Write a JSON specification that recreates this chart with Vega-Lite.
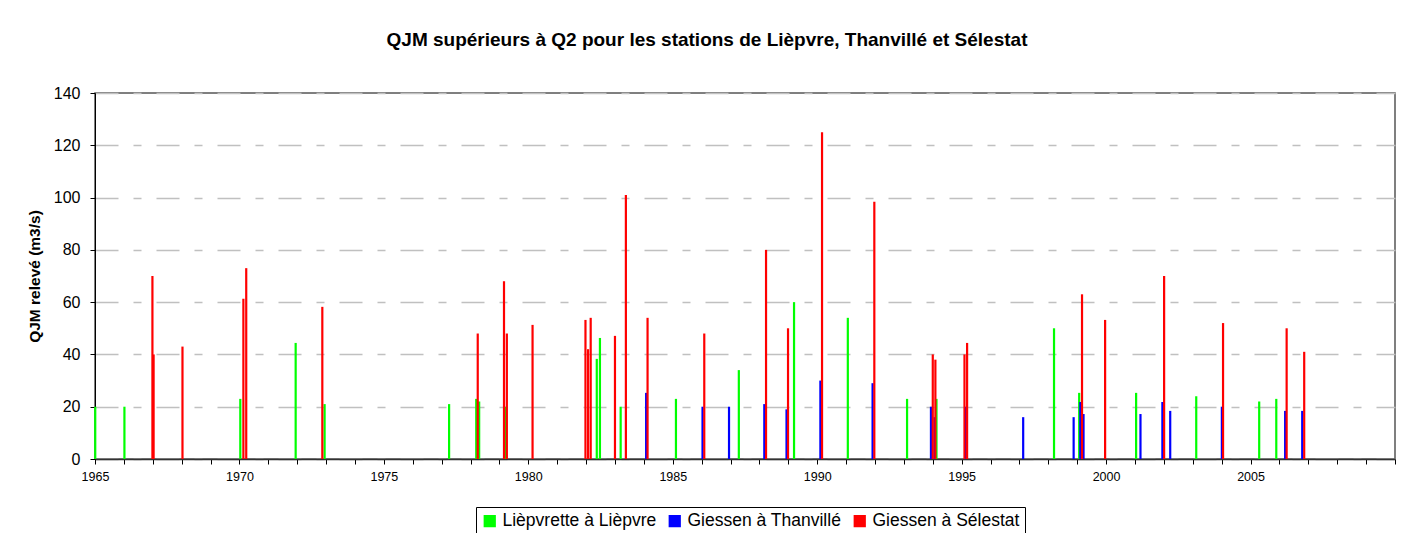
{
  "$schema": "https://vega.github.io/schema/vega-lite/v6.json",
  "width": 1300,
  "height": 366,
  "autosize": {"type": "none"},
  "padding": {"left": 95, "top": 93, "right": 17, "bottom": 74},
  "background": "white",
  "config": {
    "font": "Liberation Sans",
    "view": {"stroke": "#555555", "strokeWidth": 1.5},
    "axis": {"domainColor": "black", "tickColor": "black", "labelColor": "black", "titleColor": "black", "labelFont": "Liberation Sans", "titleFont": "Liberation Sans"}
  },
  "title": {
    "text": "QJM supérieurs à Q2 pour les stations de Lièpvre, Thanvillé et Sélestat",
    "fontSize": 19,
    "fontWeight": "bold",
    "font": "Liberation Sans",
    "color": "black",
    "anchor": "middle",
    "dx": -38,
    "offset": 35
  },
  "data": {
    "values": [
      {"date": "1965-01-04", "station": "Lièpvrette à Lièpvre", "q": 20},
      {"date": "1966-01-08", "station": "Lièpvrette à Lièpvre", "q": 20},
      {"date": "1970-01-12", "station": "Lièpvrette à Lièpvre", "q": 23},
      {"date": "1971-12-13", "station": "Lièpvrette à Lièpvre", "q": 44.4},
      {"date": "1972-12-13", "station": "Lièpvrette à Lièpvre", "q": 21},
      {"date": "1977-04-05", "station": "Lièpvrette à Lièpvre", "q": 21},
      {"date": "1978-03-14", "station": "Lièpvrette à Lièpvre", "q": 23},
      {"date": "1978-04-20", "station": "Lièpvrette à Lièpvre", "q": 22},
      {"date": "1979-03-14", "station": "Lièpvrette à Lièpvre", "q": 20},
      {"date": "1982-05-16", "station": "Lièpvrette à Lièpvre", "q": 38.3},
      {"date": "1982-06-25", "station": "Lièpvrette à Lièpvre", "q": 46.3},
      {"date": "1983-03-14", "station": "Lièpvrette à Lièpvre", "q": 20},
      {"date": "1985-02-10", "station": "Lièpvrette à Lièpvre", "q": 23},
      {"date": "1987-04-16", "station": "Lièpvrette à Lièpvre", "q": 34},
      {"date": "1989-03-14", "station": "Lièpvrette à Lièpvre", "q": 60},
      {"date": "1991-01-23", "station": "Lièpvrette à Lièpvre", "q": 54},
      {"date": "1993-02-10", "station": "Lièpvrette à Lièpvre", "q": 23},
      {"date": "1994-02-17", "station": "Lièpvrette à Lièpvre", "q": 23},
      {"date": "1998-03-14", "station": "Lièpvrette à Lièpvre", "q": 50},
      {"date": "1999-01-26", "station": "Lièpvrette à Lièpvre", "q": 25.3},
      {"date": "2001-01-15", "station": "Lièpvrette à Lièpvre", "q": 25.3},
      {"date": "2003-02-14", "station": "Lièpvrette à Lièpvre", "q": 24},
      {"date": "2005-04-20", "station": "Lièpvrette à Lièpvre", "q": 22},
      {"date": "2005-11-22", "station": "Lièpvrette à Lièpvre", "q": 23},
      {"date": "1984-01-30", "station": "Giessen à Thanvillé", "q": 25.3},
      {"date": "1986-01-12", "station": "Giessen à Thanvillé", "q": 20},
      {"date": "1986-12-13", "station": "Giessen à Thanvillé", "q": 20},
      {"date": "1988-03-03", "station": "Giessen à Thanvillé", "q": 21},
      {"date": "1988-12-09", "station": "Giessen à Thanvillé", "q": 19},
      {"date": "1990-02-10", "station": "Giessen à Thanvillé", "q": 30},
      {"date": "1991-12-02", "station": "Giessen à Thanvillé", "q": 29},
      {"date": "1993-12-09", "station": "Giessen à Thanvillé", "q": 20},
      {"date": "1994-01-23", "station": "Giessen à Thanvillé", "q": 16},
      {"date": "1995-02-17", "station": "Giessen à Thanvillé", "q": 20},
      {"date": "1997-02-17", "station": "Giessen à Thanvillé", "q": 16},
      {"date": "1998-11-17", "station": "Giessen à Thanvillé", "q": 16},
      {"date": "1999-02-10", "station": "Giessen à Thanvillé", "q": 21.8},
      {"date": "1999-03-22", "station": "Giessen à Thanvillé", "q": 17.2},
      {"date": "2001-03-11", "station": "Giessen à Thanvillé", "q": 17.2},
      {"date": "2001-12-13", "station": "Giessen à Thanvillé", "q": 21.8},
      {"date": "2002-03-22", "station": "Giessen à Thanvillé", "q": 18.4},
      {"date": "2004-01-04", "station": "Giessen à Thanvillé", "q": 20},
      {"date": "2006-03-14", "station": "Giessen à Thanvillé", "q": 18.4},
      {"date": "2006-10-16", "station": "Giessen à Thanvillé", "q": 18.4},
      {"date": "1966-12-28", "station": "Giessen à Sélestat", "q": 70},
      {"date": "1967-01-12", "station": "Giessen à Sélestat", "q": 40},
      {"date": "1968-01-12", "station": "Giessen à Sélestat", "q": 43},
      {"date": "1970-02-20", "station": "Giessen à Sélestat", "q": 61.3},
      {"date": "1970-03-28", "station": "Giessen à Sélestat", "q": 73},
      {"date": "1972-11-14", "station": "Giessen à Sélestat", "q": 58.2},
      {"date": "1978-04-02", "station": "Giessen à Sélestat", "q": 48},
      {"date": "1979-02-28", "station": "Giessen à Sélestat", "q": 68},
      {"date": "1979-04-05", "station": "Giessen à Sélestat", "q": 48},
      {"date": "1980-02-24", "station": "Giessen à Sélestat", "q": 51.3},
      {"date": "1981-12-24", "station": "Giessen à Sélestat", "q": 53.2},
      {"date": "1982-01-26", "station": "Giessen à Sélestat", "q": 42},
      {"date": "1982-02-28", "station": "Giessen à Sélestat", "q": 54},
      {"date": "1983-01-01", "station": "Giessen à Sélestat", "q": 47.1},
      {"date": "1983-05-19", "station": "Giessen à Sélestat", "q": 101},
      {"date": "1984-02-17", "station": "Giessen à Sélestat", "q": 54},
      {"date": "1986-02-03", "station": "Giessen à Sélestat", "q": 48},
      {"date": "1988-03-25", "station": "Giessen à Sélestat", "q": 80},
      {"date": "1988-12-28", "station": "Giessen à Sélestat", "q": 50},
      {"date": "1990-03-03", "station": "Giessen à Sélestat", "q": 125},
      {"date": "1991-12-24", "station": "Giessen à Sélestat", "q": 98.4},
      {"date": "1994-01-01", "station": "Giessen à Sélestat", "q": 40},
      {"date": "1994-02-03", "station": "Giessen à Sélestat", "q": 38},
      {"date": "1995-02-06", "station": "Giessen à Sélestat", "q": 40},
      {"date": "1995-03-11", "station": "Giessen à Sélestat", "q": 44.4},
      {"date": "1999-03-03", "station": "Giessen à Sélestat", "q": 63},
      {"date": "1999-12-20", "station": "Giessen à Sélestat", "q": 53.2},
      {"date": "2002-01-04", "station": "Giessen à Sélestat", "q": 70},
      {"date": "2004-01-19", "station": "Giessen à Sélestat", "q": 52},
      {"date": "2006-04-02", "station": "Giessen à Sélestat", "q": 50},
      {"date": "2006-11-10", "station": "Giessen à Sélestat", "q": 41}
    ]
  },
  "mark": {"type": "bar", "size": 2.2},
  "encoding": {
    "x": {
      "field": "date",
      "type": "temporal",
      "scale": {"type": "utc", "domain": [{"year": 1965, "month": 1, "date": 1, "utc": true}, {"year": 2010, "month": 1, "date": 1, "utc": true}], "nice": false, "padding": 0},
      "axis": {
        "title": null,
        "grid": false,
        "tickCount": {"interval": "year", "step": 1},
        "labelExpr": "(utcyear(datum.value) % 5 == 0 && utcyear(datum.value) < 2010) ? utcFormat(datum.value, '%Y') : ''",
        "labelOverlap": false,
        "labelFlush": false,
        "labelFontSize": 12.5,
        "labelPadding": 6,
        "tickSize": 5,
        "domainWidth": 1.5,
        "domainColor": "#333333"
      }
    },
    "y": {
      "field": "q",
      "type": "quantitative",
      "scale": {"domain": [0, 140], "nice": false},
      "axis": {
        "title": "QJM relevé (m3/s)",
        "titleFontSize": 15.5,
        "titleFontWeight": "bold",
        "titlePadding": 11,
        "values": [0, 20, 40, 60, 80, 100, 120, 140],
        "labelFontSize": 16,
        "labelPadding": 10,
        "tickSize": 5,
        "grid": true,
        "gridColor": "#c0c0c0",
        "gridDash": [23, 15, 8, 15],
        "gridWidth": 1.5
      }
    },
    "color": {
      "field": "station",
      "type": "nominal",
      "scale": {"domain": ["Lièpvrette à Lièpvre", "Giessen à Thanvillé", "Giessen à Sélestat"], "range": ["#00ff00", "#0000ff", "#ff0000"]},
      "legend": {
        "title": null,
        "orient": "none",
        "direction": "horizontal",
        "legendX": 381,
        "legendY": 414,
        "symbolType": "square",
        "symbolSize": 150,
        "symbolStrokeWidth": 0,
        "labelFontSize": 17.5,
        "labelFont": "Liberation Sans",
        "labelColor": "black",
        "labelOffset": 4,
        "columnPadding": 9,
        "padding": 5,
        "strokeColor": "black",
        "fillColor": "white"
      }
    },
    "order": {"field": "station", "sort": "ascending"}
  }
}
